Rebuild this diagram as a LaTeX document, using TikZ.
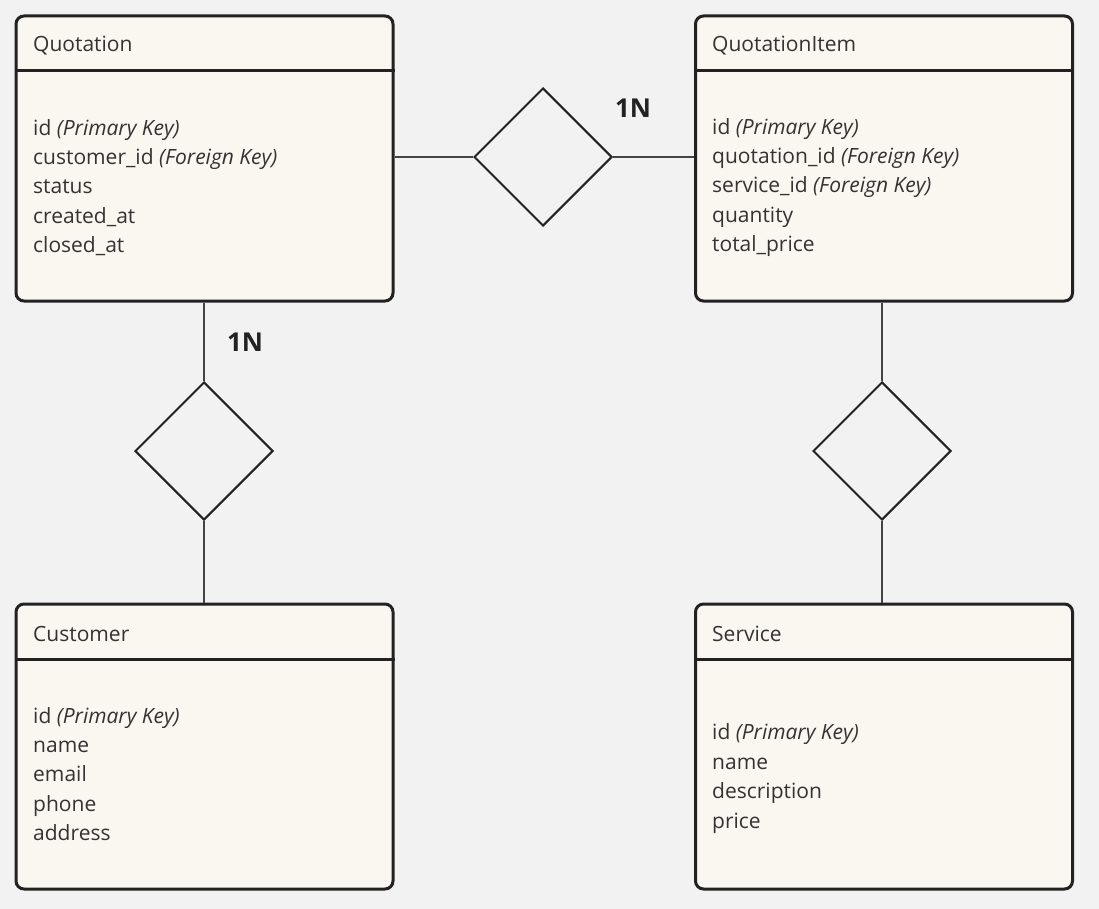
\documentclass[tikz,border=0pt]{standalone}
\usepackage{fontspec}
\setmainfont{Open Sans}
\usetikzlibrary{shapes.geometric}
\definecolor{bgc}{HTML}{F2F2F2}
\definecolor{boxfill}{HTML}{FAF6F0}
\definecolor{edge}{HTML}{222222}
\definecolor{txt}{HTML}{333333}
\tikzset{
  entity/.style={draw=edge, line width=3pt, fill=boxfill, rounded corners=8pt,
    minimum width=377pt, minimum height=285pt, inner sep=0pt, anchor=north west},
  title/.style={anchor=base west, inner sep=0pt, text=txt, font=\fontsize{21}{29.4}\selectfont},
  attrs/.style={anchor=west, align=left, inner sep=0pt, text=txt, font=\fontsize{21}{29.4}\selectfont},
  rel/.style={diamond, draw=edge, line width=2pt, fill=bgc, minimum width=138pt, minimum height=138pt, inner sep=0pt},
  conn/.style={draw=edge!85, line width=2pt},
  card/.style={inner sep=0pt, text=edge, font=\fontsize{26}{30}\selectfont\bfseries},
}
\begin{document}
\begin{tikzpicture}[x=1pt,y=-1pt]
\fill[bgc] (0,0) rectangle (1099,909);
\useasboundingbox (0,0) rectangle (1099,909);

% entities
\node[entity] (quot) at (14.5,14.5) {};
\node[entity] (item) at (694,14.5) {};
\node[entity] (cust) at (14.5,602.5) {};
\node[entity] (serv) at (694,602.5) {};

\draw[draw=edge, line width=3pt] (quot.west |- 0,71) -- (quot.east |- 0,71);
\draw[draw=edge, line width=3pt] (item.west |- 0,71) -- (item.east |- 0,71);
\draw[draw=edge, line width=3pt] (cust.west |- 0,659) -- (cust.east |- 0,659);
\draw[draw=edge, line width=3pt] (serv.west |- 0,659) -- (serv.east |- 0,659);

\node[title] (quott) at (33,52) {Quotation};
\node[title] (itemt) at (712,52) {QuotationItem};
\node[title] (custt) at (33,641) {Customer};
\node[title] (servt) at (712,641) {Service};

\node[attrs] (quota) at (33,187.5) {id \textit{(Primary Key)}\\customer\_id \textit{(Foreign Key)}\\status\\created\_at\\closed\_at};
\node[attrs] (itema) at (712,187.5) {id \textit{(Primary Key)}\\quotation\_id \textit{(Foreign Key)}\\service\_id \textit{(Foreign Key)}\\quantity\\total\_price};
\node[attrs] (custa) at (33,774) {id \textit{(Primary Key)}\\name\\email\\phone\\address};
\node[attrs] (serva) at (712,778.5) {id \textit{(Primary Key)}\\name\\description\\price};

% relationships
\node[rel] (r1) at (543,157) {};
\node[rel] (r2) at (204,451) {};
\node[rel] (r3) at (882,451) {};

\coordinate (q1) at (quot.east |- r1);
\coordinate (i1) at (item.west |- r1);
\coordinate (q2) at (r2 |- quot.south);
\coordinate (c2) at (r2 |- cust.north);
\coordinate (i3) at (r3 |- item.south);
\coordinate (s3) at (r3 |- serv.north);

\draw[conn] (q1) -- (r1.west);
\draw[conn] (r1.east) -- (i1);
\draw[conn] (q2) -- (r2.north);
\draw[conn] (r2.south) -- (c2);
\draw[conn] (i3) -- (r3.north);
\draw[conn] (r3.south) -- (s3);

\node[card] (n1) at (633,108) {1N};
\node[card] (n2) at (245,342) {1N};
\end{tikzpicture}
\end{document}
